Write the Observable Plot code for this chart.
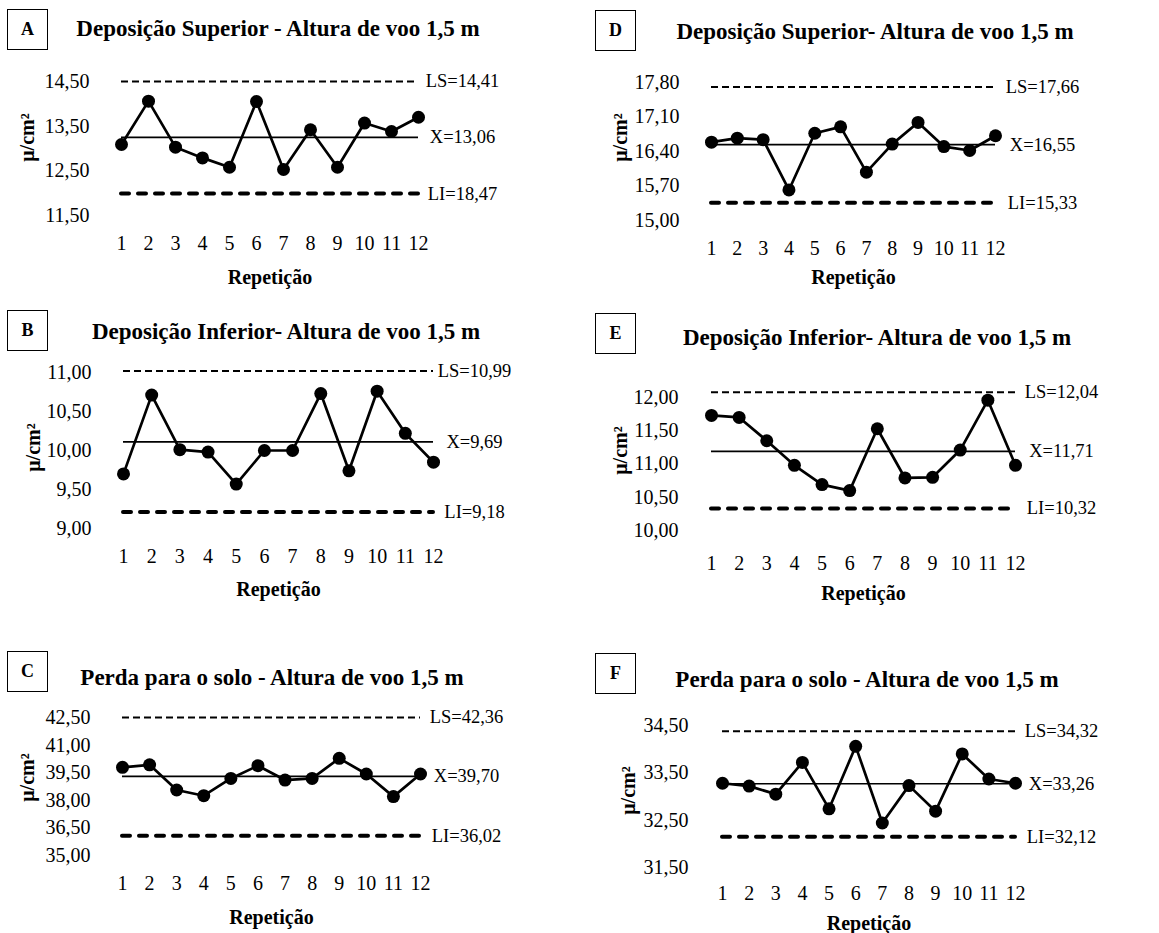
<!DOCTYPE html>
<html>
<head>
<meta charset="utf-8">
<script src="https://cdn.jsdelivr.net/npm/d3@7"></script>
<script src="https://cdn.jsdelivr.net/npm/@observablehq/plot@0.6"></script>
<style>
  html, body { margin: 0; padding: 0; background: #fff; }
  body { width: 1159px; height: 933px; overflow: hidden; position: relative; font-family: "Liberation Serif", "Times New Roman", serif; color: #000; }
  .box { position: absolute; width: 41px; height: 41px; border: 1px solid #000; box-sizing: border-box; display: flex; align-items: center; justify-content: center; font-weight: bold; font-size: 18px; }
  .title { position: absolute; transform: translate(-50%, -50%); white-space: nowrap; font-weight: bold; font-size: 23px; }
  .panel { position: absolute; }
  .panel svg { overflow: visible; }
</style>
</head>
<body>
<script>
// ---------- data ----------
const repetitions = [1, 2, 3, 4, 5, 6, 7, 8, 9, 10, 11, 12];
const panelLetters = ["A", "B", "C", "D", "E", "F"];
const titles = [
  "Deposição Superior - Altura de voo 1,5 m",
  "Deposição Inferior- Altura de voo 1,5 m",
  "Perda para o solo - Altura de voo 1,5 m",
  "Deposição Superior- Altura de voo 1,5 m",
  "Deposição Inferior- Altura de voo 1,5 m",
  "Perda para o solo - Altura de voo 1,5 m"
];
const valuesA = [13.09, 14.06, 13.03, 12.79, 12.58, 14.05, 12.53, 13.42, 12.58, 13.57, 13.38, 13.70];
const valuesB = [9.70, 10.71, 10.01, 9.98, 9.57, 10.00, 10.00, 10.73, 9.74, 10.76, 10.22, 9.85];
const valuesC = [39.79, 39.93, 38.56, 38.25, 39.19, 39.88, 39.10, 39.19, 40.28, 39.43, 38.20, 39.43];
const valuesD = [16.59, 16.67, 16.64, 15.62, 16.77, 16.90, 15.98, 16.55, 16.99, 16.50, 16.42, 16.72];
const valuesE = [11.73, 11.70, 11.35, 10.98, 10.69, 10.60, 11.53, 10.79, 10.80, 11.21, 11.96, 10.98];
const valuesF = [33.28, 33.22, 33.05, 33.72, 32.74, 34.06, 32.44, 33.23, 32.69, 33.90, 33.37, 33.28];
// control lines as drawn (upper, centre, lower)
const upperLines = [14.50, 11.02, 42.50, 17.71, 12.08, 34.38];
const centerLines = [13.25, 10.11, 39.30, 16.54, 11.19, 33.27];
const lowerLines = [11.99, 9.21, 36.08, 15.36, 10.33, 32.15];
const upperLabels = ["LS=14,41", "LS=10,99", "LS=42,36", "LS=17,66", "LS=12,04", "LS=34,32"];
const centerLabels = ["X=13,06", "X=9,69", "X=39,70", "X=16,55", "X=11,71", "X=33,26"];
const lowerLabels = ["LI=18,47", "LI=9,18", "LI=36,02", "LI=15,33", "LI=10,32", "LI=32,12"];
const yTicksA = [11.5, 12.5, 13.5, 14.5];
const yTicksB = [9.0, 9.5, 10.0, 10.5, 11.0];
const yTicksC = [35.0, 36.5, 38.0, 39.5, 41.0, 42.5];
const yTicksD = [15.0, 15.7, 16.4, 17.1, 17.8];
const yTicksE = [10.0, 10.5, 11.0, 11.5, 12.0];
const yTicksF = [31.5, 32.5, 33.5, 34.5];
const xAxisLabel = "Repetição";
const yAxisLabel = "μ/cm²";

const allValues = [valuesA, valuesB, valuesC, valuesD, valuesE, valuesF];
const allTicks = [yTicksA, yTicksB, yTicksC, yTicksD, yTicksE, yTicksF];

// ---------- layout (pixel positions on the page) ----------
const layout = [
  {col: 0,   x1: 121, x12: 418,  yTop: 81,  yBot: 215, tickRight: 89,  xTickY: 243, xLabelY: 277, yLabelX: 27,  yLabelY: 137, rlc: 462,  box: [7, 9],    title: [278, 29]},
  {col: 0,   x1: 123, x12: 433,  yTop: 372, yBot: 528, tickRight: 91,  xTickY: 556, xLabelY: 589, yLabelX: 33,  yLabelY: 447, rlc: 474,  box: [7, 310],  title: [286, 332]},
  {col: 0,   x1: 122, x12: 420,  yTop: 717, yBot: 855, tickRight: 90,  xTickY: 883, xLabelY: 917, yLabelX: 27,  yLabelY: 777, rlc: 466,  box: [7, 651],  title: [272, 678]},
  {col: 580, x1: 711, x12: 995,  yTop: 82,  yBot: 220, tickRight: 679, xTickY: 248, xLabelY: 277, yLabelX: 620, yLabelY: 137, rlc: 1042, box: [595, 10], title: [875, 32]},
  {col: 580, x1: 711, x12: 1015, yTop: 397, yBot: 530, tickRight: 678, xTickY: 563, xLabelY: 593, yLabelX: 620, yLabelY: 450, rlc: 1061, box: [595, 313], title: [877, 338]},
  {col: 580, x1: 722, x12: 1015, yTop: 725, yBot: 867, tickRight: 688, xTickY: 893, xLabelY: 923, yLabelX: 628, yLabelY: 790, rlc: 1061, box: [595, 653], title: [867, 680]}
];

const TICK_FS = 20;
const fmt = d => d.toFixed(2).replace(".", ",");

panelLetters.forEach((letter, i) => {
  const L = layout[i];
  const ticks = allTicks[i];
  const rows = repetitions.map((r, j) => ({rep: r, value: allValues[i][j]}));
  const refRows = [
    {v: upperLines[i], label: upperLabels[i]},
    {v: centerLines[i], label: centerLabels[i]},
    {v: lowerLines[i], label: lowerLabels[i]}
  ];

  // header: letter box + title
  const box = document.createElement("div");
  box.className = "box";
  box.style.left = L.box[0] + "px";
  box.style.top = L.box[1] + "px";
  box.textContent = letter;
  document.body.appendChild(box);

  const t = document.createElement("div");
  t.className = "title";
  t.style.left = L.title[0] + "px";
  t.style.top = L.title[1] + "px";
  t.textContent = titles[i];
  document.body.appendChild(t);

  const svgLeft = L.col;
  const svgTop = L.yTop - 25;
  const width = 579;
  const height = L.xLabelY + 14 - svgTop;
  const marginLeft = L.x1 - svgLeft;
  const marginRight = svgLeft + width - L.x12;
  const marginTop = L.yTop - svgTop;
  const marginBottom = svgTop + height - L.yBot;
  const frameMidY = (L.yTop + L.yBot) / 2;

  const chart = Plot.plot({
    width, height, marginLeft, marginRight, marginTop, marginBottom,
    style: {fontFamily: "'Liberation Serif', 'Times New Roman', serif", fontSize: TICK_FS + "px", color: "#000", background: "transparent", overflow: "visible"},
    x: {domain: [1, 12]},
    y: {domain: [ticks[0], ticks[ticks.length - 1]]},
    marks: [
      Plot.axisY({ticks, tickFormat: fmt, tickSize: 0, tickPadding: L.x1 - L.tickRight, label: null, fontSize: TICK_FS}),
      Plot.axisX({ticks: repetitions, tickFormat: d => String(d), tickSize: 0, tickPadding: L.xTickY - L.yBot - 0.38 * TICK_FS, label: null, fontSize: TICK_FS}),
      Plot.ruleY([upperLines[i]], {x1: 1, x2: 12, stroke: "#000", strokeWidth: 2, strokeDasharray: "7,4"}),
      Plot.ruleY([lowerLines[i]], {x1: 1, x2: 12, stroke: "#000", strokeWidth: 4, strokeDasharray: "8,9", strokeLinecap: "round"}),
      Plot.ruleY([centerLines[i]], {x1: 1, x2: 12, stroke: "#000", strokeWidth: 1.6}),
      Plot.line(rows, {x: "rep", y: "value", stroke: "#000", strokeWidth: 2.7}),
      Plot.dot(rows, {x: "rep", y: "value", r: 6.5, fill: "#000", stroke: "none"}),
      Plot.text(refRows, {y: "v", text: "label", frameAnchor: "right", dx: L.rlc - L.x12, textAnchor: "middle", lineAnchor: "middle", fontSize: 18.5, fill: "#000"}),
      Plot.text([xAxisLabel], {frameAnchor: "bottom", dy: L.xLabelY - L.yBot, lineAnchor: "middle", fontSize: 20, fontWeight: "bold", fill: "#000"}),
      Plot.text([yAxisLabel], {frameAnchor: "left", dx: L.yLabelX - L.x1, dy: L.yLabelY - frameMidY, rotate: -90, lineAnchor: "middle", textAnchor: "middle", fontSize: 20, fontWeight: "bold", fill: "#000"})
    ]
  });

  const wrap = document.createElement("div");
  wrap.className = "panel";
  wrap.style.left = svgLeft + "px";
  wrap.style.top = svgTop + "px";
  wrap.appendChild(chart);
  document.body.appendChild(wrap);
});
</script>
</body>
</html>
